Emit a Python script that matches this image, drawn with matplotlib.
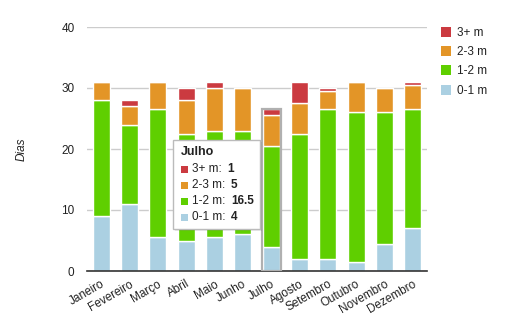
import numpy as np
import matplotlib
matplotlib.use("Agg")
import matplotlib.pyplot as plt
from matplotlib.patches import Patch, FancyBboxPatch
from matplotlib.text import Annotation

plt.rcParams['font.family'] = ['Liberation Sans', 'DejaVu Sans']

# dias por mes em cada faixa de ondulacao
meses = ['Janeiro', 'Fevereiro', 'Março', 'Abril', 'Maio', 'Junho',
         'Julho', 'Agosto', 'Setembro', 'Outubro', 'Novembro', 'Dezembro']
m01 = [9, 11, 5.5, 5, 5.5, 6, 4, 2, 2, 1.5, 4.5, 7]
m12 = [19, 13, 21, 17.5, 17.5, 17, 16.5, 20.5, 24.5, 24.5, 21.5, 19.5]
m23 = [3, 3, 4.5, 5.5, 7, 7, 5, 5, 3, 5, 4, 4]
m3p = [0, 1, 0, 2, 1, 0, 1, 3.5, 0.5, 0, 0, 0.5]

series = [('0-1 m', m01, '#abd0e2'),
          ('1-2 m', m12, '#5fcf00'),
          ('2-3 m', m23, '#e39527'),
          ('3+ m', m3p, '#cb3a40')]

fig = plt.figure(figsize=(5.05, 3.29), dpi=100)
ax = fig.add_axes([87/505, 1 - 271/329, 340/505, 244/329])

x = np.arange(len(meses))
base = np.zeros(len(meses))
for nome, vals, cor in series:
    vals = np.array(vals, dtype=float)
    ax.bar(x, vals, bottom=base, width=0.6, color=cor,
           edgecolor='white', linewidth=1.0, zorder=2)
    base += vals

# destaque do mes selecionado
sel = 6
ax.bar(x[sel], base[sel], width=0.66, fill=False, edgecolor='#b0b0b0',
       linewidth=1.6, zorder=3)

ax.set_xlim(-0.5, len(meses) - 0.5)
ax.set_ylim(0, 40)
ax.set_yticks([0, 10, 20, 30, 40])
ax.yaxis.grid(True, color='#cccccc', linewidth=1, zorder=0)
ax.set_axisbelow(True)
for s in ['top', 'right', 'left']:
    ax.spines[s].set_visible(False)
ax.spines['bottom'].set_color('#333333')
ax.spines['bottom'].set_linewidth(1.2)
ax.tick_params(axis='both', length=0, labelsize=8.5, colors='#222222')
ax.tick_params(axis='y', pad=9)
ax.set_xticks(x)
ax.set_xticklabels(meses, rotation=30, ha='right', rotation_mode='anchor')
ax.tick_params(axis='x', pad=5)
ax.set_ylabel('Dias', fontsize=8.5, style='italic', color='#222222', labelpad=24)

handles = [Patch(facecolor=c, edgecolor='none', label=n)
           for n, _, c in series[::-1]]
leg = fig.legend(handles=handles, loc='upper left',
                 bbox_to_anchor=(436/505, 1 - 22/329), frameon=False,
                 fontsize=8.5, handlelength=0.9, handleheight=0.9,
                 handletextpad=0.5, labelspacing=0.62, borderaxespad=0)
for t in leg.get_texts():
    t.set_color('#222222')

# caixa de informacao do mes selecionado
W, H = 505, 329
sombra = FancyBboxPatch((175/W, 1 - 231/H), 87/W, 89/H,
                        boxstyle='square,pad=0', transform=fig.transFigure,
                        facecolor='#000000', alpha=0.08, edgecolor='none',
                        zorder=4)
box = FancyBboxPatch((173/W, 1 - 229/H), 87/W, 89/H,
                     boxstyle='square,pad=0', transform=fig.transFigure,
                     facecolor='white', edgecolor='#bbbbbb', linewidth=1,
                     zorder=5)
fig.patches.extend([sombra, box])

fig.text(181/W, 1 - 152/H, meses[sel], fontsize=9, fontweight='bold',
         color='#222222', va='center', zorder=6)
ys = [169, 185, 201, 217]
for yy, (nome, vals, cor) in zip(ys, series[::-1]):
    fig.patches.append(plt.Rectangle((181/W, 1 - (yy + 3.5)/H), 7/W, 7/H,
                                     transform=fig.transFigure,
                                     facecolor=cor, edgecolor='none', zorder=6))
    lbl = fig.text(192/W, 1 - yy/H, nome + ':', fontsize=8.5, color='#222222',
                   va='center', zorder=6)
    val = Annotation('%g' % vals[sel], xy=(1, 0.5), xycoords=lbl,
                     xytext=(4, 0), textcoords='offset points',
                     va='center', ha='left', fontsize=8.5,
                     fontweight='bold', color='#222222', zorder=7)
    fig.add_artist(val)

fig.savefig('out.png', dpi=100)
